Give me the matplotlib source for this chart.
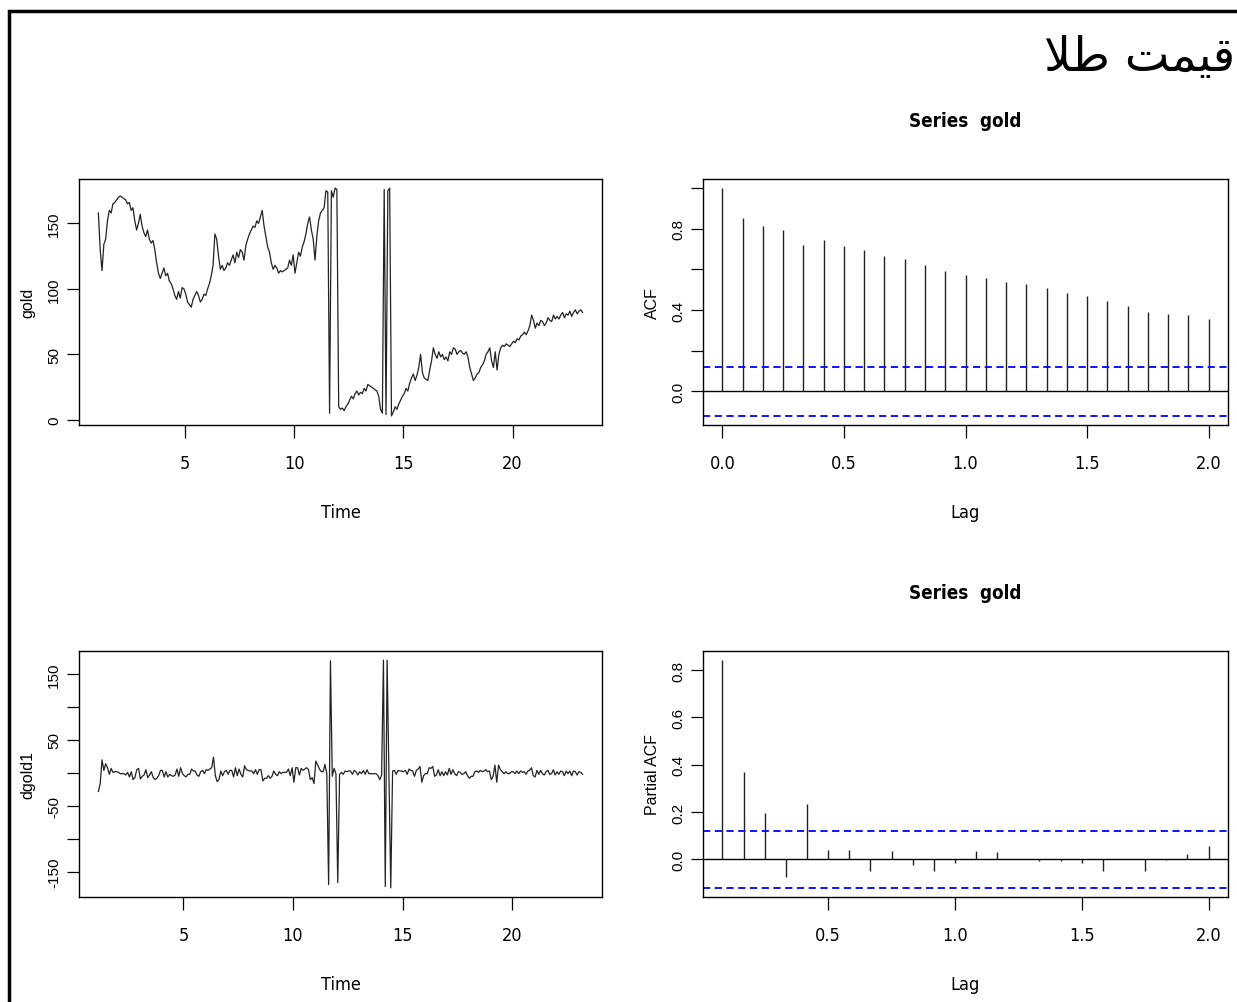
import numpy as np
import matplotlib.pyplot as plt
from matplotlib import font_manager
from matplotlib.patches import Rectangle

# ---------- data ----------
# monthly gold series, first observation at t = 1.04, frequency 12
gold_start = 1.04
gold_freq = 12
gold = [
    158, 130, 114, 134, 138, 152, 160, 158, 165, 166, 168, 170,
    171, 170, 169, 168, 165, 166, 160, 162, 152, 145, 150, 157,
    148, 143, 140, 145, 138, 135, 137, 130, 120, 112, 108, 112,
    116, 110, 112, 106, 104, 100, 95, 92, 98, 93, 101, 100,
    96, 90, 88, 86, 92, 95, 98, 95, 90, 92, 96, 95,
    100, 104, 110, 118, 142, 138, 125, 115, 118, 114, 116, 120,
    118, 122, 126, 120, 128, 124, 130, 128, 122, 133, 138, 142,
    145, 148, 147, 152, 150, 155, 160, 148, 140, 132, 128, 120,
    115, 118, 116, 112, 114, 113, 114, 115, 116, 122, 118, 126,
    112, 120, 128, 125, 132, 136, 142, 150, 155, 145, 138, 122,
    140, 152, 158, 160, 162, 175, 174, 5, 175, 170, 177, 176,
    10, 8, 9, 7, 10, 12, 15, 18, 16, 20, 22, 19,
    21, 20, 24, 22, 27, 26, 25, 24, 23, 22, 18, 8,
    5, 176, 4, 175, 177, 3, 6, 10, 8, 12, 15, 18,
    20, 24, 22, 28, 32, 35, 30, 34, 40, 50, 36, 32,
    31, 30, 38, 45, 55, 50, 47, 52, 48, 50, 46, 48,
    45, 52, 50, 55, 54, 50, 52, 53, 51, 50, 52, 48,
    40, 35, 30, 32, 35, 36, 40, 42, 45, 50, 52, 55,
    45, 40, 52, 38, 50, 55, 57, 56, 58, 57, 56, 58,
    60, 59, 62, 61, 64, 65, 67, 65, 68, 72, 80, 76,
    70, 74, 72, 76, 75, 72, 74, 78, 76, 75, 80, 77,
    79, 77, 80, 82, 78, 81, 80, 83, 79, 82, 84, 81,
    83, 84, 82,
]

# autocorrelations of gold, lags 0..24 (months)
acf_vals = [1.0, 0.852, 0.815, 0.793, 0.722, 0.747, 0.716, 0.697, 0.666,
            0.650, 0.623, 0.590, 0.574, 0.557, 0.540, 0.527, 0.507, 0.483,
            0.469, 0.443, 0.421, 0.392, 0.379, 0.375, 0.355]

# partial autocorrelations of gold, lags 1..24
pacf_vals = [0.842, 0.368, 0.196, -0.074, 0.234, 0.042, 0.039, -0.049,
             0.035, -0.025, -0.049, -0.014, 0.036, 0.031, 0.003, -0.005,
             -0.008, -0.014, -0.049, 0.003, -0.050, -0.003, 0.024, 0.056]

title_fa = '\uFEFC\uFEC3 \uFE96\uFEE4\uFBFF\uFED7'   # "قیمت طلا" in display order

t = gold_start + np.arange(len(gold)) / gold_freq
dgold1 = np.diff(gold)
clim = 1.96 / np.sqrt(len(gold))
acf_lag = np.arange(len(acf_vals)) / gold_freq
pacf_lag = np.arange(1, len(pacf_vals) + 1) / gold_freq


# ---------- fonts: narrow face for horizontal labels if one is installed ----------
def find_narrow(weight):
    best = None
    for f in font_manager.fontManager.ttflist:
        narrow = ('Narrow' in f.name or 'Condensed' in f.name
                  or str(f.stretch) in ('condensed', 'semi-condensed', 'extra-condensed', '75', '87'))
        if not narrow or f.style != 'normal':
            continue
        bold = str(f.weight) in ('bold', '700', 'semibold', '600')
        if bold != (weight == 'bold'):
            continue
        score = 0 if 'Liberation' in f.name else (1 if 'DejaVu' in f.name else 2)
        if best is None or score < best[0]:
            best = (score, f.fname)
    return best[1] if best else None


def fp(size, weight='normal'):
    path = find_narrow(weight)
    if path:
        return font_manager.FontProperties(fname=path, size=size)
    return font_manager.FontProperties(family='Liberation Sans', size=size * 0.85,
                                       weight=weight)


# ---------- figure ----------
W, H = 1237, 1003
fig = plt.figure(figsize=(W / 100, H / 100), dpi=100)


def box(x0, y0, x1, y1):
    return fig.add_axes([x0 / W, 1 - y1 / H, (x1 - x0) / W, (y1 - y0) / H])


def r_axes(ax, yticks, ylabels, xticks, xlabels, xlab, ylab):
    for s in ax.spines.values():
        s.set_linewidth(1.0)
        s.set_color('black')
    ax.margins(x=0.04, y=0.04)
    ax.set_xticks(xticks)
    ax.set_xticklabels(xlabels, fontproperties=fp(13))
    ax.set_yticks(yticks)
    ax.set_yticklabels(ylabels, fontsize=11, family=['Liberation Sans'],
                       rotation=90, va='center')
    ax.tick_params(axis='x', direction='out', length=9, width=0.9, pad=12)
    ax.tick_params(axis='y', direction='out', length=9, width=0.9, pad=4)
    ax.set_xlabel(xlab, fontproperties=fp(13), labelpad=22)
    ax.set_ylabel(ylab, fontsize=11.5, family=['Liberation Sans'], labelpad=8)


def acf_title(ax):
    ax.set_title('Series  gold', fontproperties=fp(13.5, 'bold'), pad=38)


# (1) gold
ax1 = box(79, 180, 602, 426)
ax1.plot(t, gold, color='#222222', lw=0.9)
r_axes(ax1, [0, 50, 100, 150], ['0', '50', '100', '150'],
       [5, 10, 15, 20], ['5', '10', '15', '20'], 'Time', 'gold')

# (2) ACF
ax2 = box(703, 180, 1228, 426)
ax2.vlines(acf_lag, 0, acf_vals, color='#222222', lw=1.0)
ax2.axhline(0, color='black', lw=1.0)
for c in (clim, -clim):
    ax2.axhline(c, color='blue', lw=1.3, ls=(0, (4, 2.5)))
ax2.plot([0, 0], [-clim, 1.0], alpha=0)  # y range as in acf()
r_axes(ax2, [0, 0.2, 0.4, 0.6, 0.8, 1.0], ['0.0', '', '0.4', '', '0.8', ''],
       [0, 0.5, 1.0, 1.5, 2.0], ['0.0', '0.5', '1.0', '1.5', '2.0'], 'Lag', 'ACF')
acf_title(ax2)

# (3) differenced gold
ax3 = box(79, 652, 602, 898)
ax3.plot(t[1:], dgold1, color='#222222', lw=0.9)
r_axes(ax3, [-150, -100, -50, 0, 50, 100, 150],
       ['-150', '', '-50', '', '50', '', '150'],
       [5, 10, 15, 20], ['5', '10', '15', '20'], 'Time', 'dgold1')

# (4) PACF
ax4 = box(703, 652, 1228, 898)
ax4.vlines(pacf_lag, 0, pacf_vals, color='#222222', lw=1.0)
ax4.axhline(0, color='black', lw=1.0)
for c in (clim, -clim):
    ax4.axhline(c, color='blue', lw=1.3, ls=(0, (4, 2.5)))
ax4.plot([pacf_lag[0]] * 2, [-clim, max(pacf_vals)], alpha=0)
r_axes(ax4, [0, 0.2, 0.4, 0.6, 0.8], ['0.0', '0.2', '0.4', '0.6', '0.8'],
       [0.5, 1.0, 1.5, 2.0], ['0.5', '1.0', '1.5', '2.0'], 'Lag', 'Partial ACF')
acf_title(ax4)

# slide frame and heading
fig.add_artist(Rectangle((9 / W, -0.05), 1.1, 1.05 - 12 / H,
                         transform=fig.transFigure, fill=False,
                         edgecolor='black', lw=2.5))
fig.text(1235 / W, 1 - 58 / H, title_fa, family=['DejaVu Sans'], fontsize=34,
         ha='right', va='center')

fig.savefig('out.png', dpi=100)
